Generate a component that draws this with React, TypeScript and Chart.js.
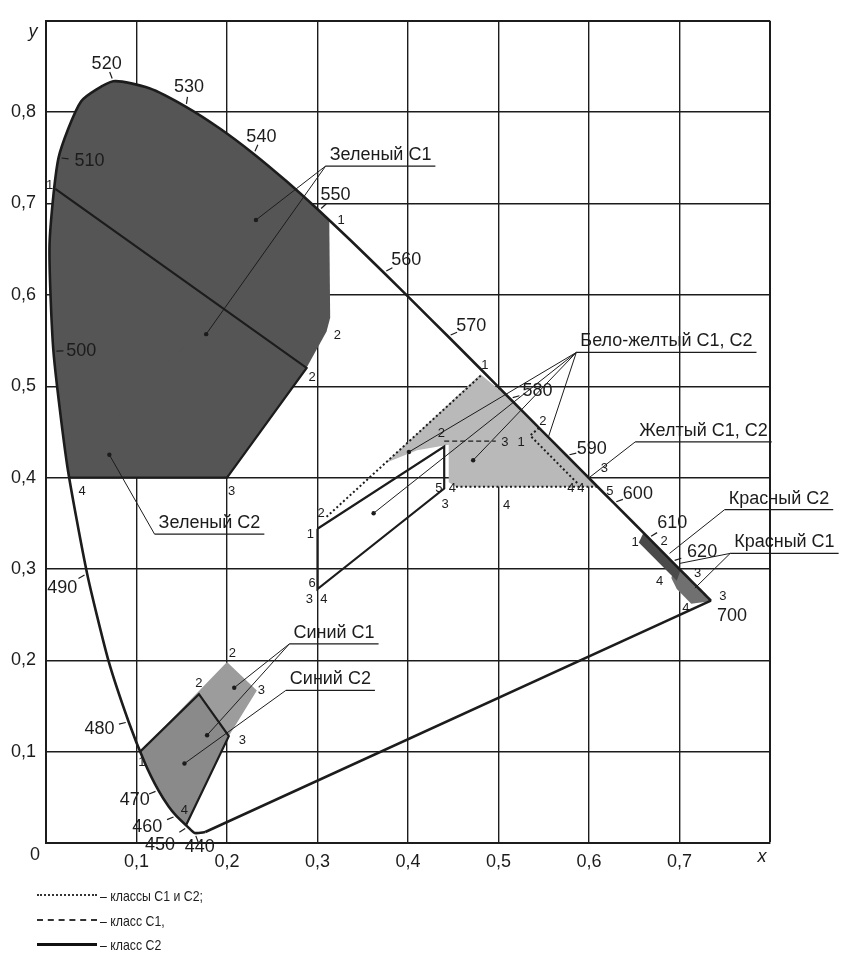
import React, { useEffect, useRef } from 'react';
import { Chart, registerables } from 'chart.js';

Chart.register(...registerables);

const W = 842;
const H = 959;
const FONT = '"Liberation Sans", Arial, Helvetica, sans-serif';
const INK = '#1c1c1c';

// ---- axis tick labels ----
const X_TICK_LABELS = ['', '0,1', '0,2', '0,3', '0,4', '0,5', '0,6', '0,7', ''];
const Y_TICK_LABELS = ['', '0,1', '0,2', '0,3', '0,4', '0,5', '0,6', '0,7', '0,8', ''];

// ---- spectral locus (wavelength, x, y) ----
const LOCUS_NM = [410, 440, 450, 460, 465, 470, 475, 480, 485, 490, 495, 500, 505, 510, 515, 520, 525, 530, 535, 540, 545, 550, 555, 560, 565, 570, 575, 580, 585, 590, 595, 600, 610, 620, 630, 640, 650, 660, 680, 700];
const LOCUS_X = [0.176, 0.1644, 0.1566, 0.144, 0.1355, 0.1241, 0.1096, 0.0913, 0.0687, 0.0454, 0.0235, 0.0082, 0.0039, 0.0139, 0.0389, 0.0743, 0.1142, 0.1547, 0.1929, 0.2296, 0.2658, 0.3016, 0.3373, 0.3731, 0.4087, 0.4441, 0.4788, 0.5125, 0.5448, 0.5752, 0.6029, 0.627, 0.6658, 0.6915, 0.7079, 0.719, 0.726, 0.73, 0.7334, 0.7347];
const LOCUS_Y = [0.012, 0.0109, 0.0177, 0.0297, 0.0399, 0.0578, 0.0868, 0.1327, 0.2007, 0.295, 0.4127, 0.5384, 0.6548, 0.7502, 0.812, 0.8338, 0.8262, 0.8059, 0.7816, 0.7543, 0.7243, 0.6923, 0.6589, 0.6245, 0.5896, 0.5547, 0.5202, 0.4866, 0.4544, 0.4242, 0.3965, 0.3725, 0.334, 0.3083, 0.292, 0.2809, 0.274, 0.27, 0.2666, 0.2653];

// ---- region vertices (outside the locus part) ----
const GREEN_C1_START_X = [0.0259];
const GREEN_C1_START_Y = [0.4];
const GREEN_C1_END_X = [0.313, 0.314, 0.31, 0.289, 0.2];
const GREEN_C1_END_Y = [0.681, 0.575, 0.56, 0.522, 0.4];
const GREEN_C2_X = [0.0103, 0.288, 0.2, 0.0259];
const GREEN_C2_Y = [0.716, 0.52, 0.4, 0.4];

const BLUE_C1_X = [0.104, 0.2, 0.233, 0.202, 0.155];
const BLUE_C1_Y = [0.1, 0.198, 0.167, 0.117, 0.02];
const BLUE_C2_X = [0.104, 0.169, 0.202, 0.155];
const BLUE_C2_Y = [0.1, 0.163, 0.117, 0.02];

const YW_FILL_START_X = [0.375, 0.48];
const YW_FILL_START_Y = [0.416, 0.513];
const YW_FILL_END_X = [0.6094, 0.453, 0.445, 0.445, 0.41];
const YW_FILL_END_Y = [0.39, 0.39, 0.395, 0.436, 0.43];
const YW_DOT_A_X = [0.31, 0.482];
const YW_DOT_A_Y = [0.357, 0.513];
const YW_DOT_B_X = [0.453, 0.6094];
const YW_DOT_B_Y = [0.39, 0.39];
const YELLOW_DOT_X = [0.5448, 0.535, 0.588];
const YELLOW_DOT_Y = [0.4544, 0.446, 0.393];
const C1_DASH_X = [0.44, 0.497];
const C1_DASH_Y = [0.44, 0.44];
const WHITE_C2_X = [0.3, 0.44, 0.44, 0.3, 0.3];
const WHITE_C2_Y = [0.344, 0.434, 0.388, 0.278, 0.344];

const RED_C2_X = [0.66, 0.701, 0.697, 0.655];
const RED_C2_Y = [0.339, 0.298, 0.287, 0.329];
const RED_C1_X = [0.695, 0.736, 0.713, 0.697, 0.691];
const RED_C1_Y = [0.305, 0.265, 0.262, 0.278, 0.29];

// ---- region names with leader lines ----
const REGION_NAMES = ['Зеленый С1', 'Зеленый С2', 'Бело-желтый С1, С2', 'Желтый С1, С2', 'Красный С2', 'Красный С1', 'Синий С1', 'Синий С2'];
const REGION_APEX_X = [0.309, 0.12, 0.586, 0.651, 0.75, 0.756, 0.269, 0.265];
const REGION_APEX_Y = [0.741, 0.338, 0.537, 0.439, 0.365, 0.317, 0.218, 0.167];
const REGION_TARGETS: number[][][] = [
  [[0.232, 0.682, 1], [0.177, 0.557, 1]],
  [[0.07, 0.425, 1]],
  [[0.362, 0.361, 1], [0.401, 0.428, 1], [0.472, 0.419, 1], [0.555, 0.444, 0]],
  [[0.599, 0.399, 0]],
  [[0.689, 0.317, 0]],
  [[0.7, 0.306, 0], [0.717, 0.279, 0]],
  [[0.208, 0.17, 1], [0.178, 0.118, 1]],
  [[0.153, 0.087, 1]],
];

// ---- wavelength labels ----
const WL_NM = [520, 530, 540, 510, 550, 560, 570, 580, 590, 600, 610, 620, 700, 500, 490, 480, 470, 460, 450, 440];
const WL_LX = [0.067, 0.158, 0.238, 0.048, 0.32, 0.398, 0.47, 0.543, 0.603, 0.654, 0.692, 0.725, 0.758, 0.039, 0.018, 0.059, 0.098, 0.112, 0.126, 0.17];
const WL_LY = [0.853, 0.828, 0.773, 0.746, 0.709, 0.638, 0.566, 0.495, 0.431, 0.382, 0.35, 0.319, 0.248, 0.539, 0.279, 0.125, 0.047, 0.017, -0.002, -0.004];

// ---- vertex numbers ----
const PT_TEXT = ['1', '1', '2', '2', '3', '4', '2', '2', '3', '3', '1', '4', '1', '2', '3', '1', '3', '4', '4', '5', '4', '2', '5', '4', '3', '2', '1', '6', '3', '4', '1', '2', '4', '3', '4', '3'];
const PT_X = [0.004, 0.326, 0.322, 0.294, 0.205, 0.04, 0.206, 0.169, 0.238, 0.217, 0.106, 0.153, 0.485, 0.549, 0.507, 0.525, 0.617, 0.58, 0.591, 0.623, 0.509, 0.437, 0.434, 0.449, 0.441, 0.304, 0.292, 0.294, 0.291, 0.307, 0.651, 0.683, 0.678, 0.72, 0.707, 0.748];
const PT_Y = [0.72, 0.682, 0.556, 0.51, 0.385, 0.385, 0.208, 0.175, 0.167, 0.112, 0.088, 0.036, 0.523, 0.461, 0.439, 0.439, 0.41, 0.388, 0.388, 0.385, 0.37, 0.448, 0.388, 0.388, 0.371, 0.361, 0.338, 0.284, 0.267, 0.267, 0.329, 0.33, 0.286, 0.295, 0.257, 0.27];

// ---- legend ----
const LEGEND_TEXT = ['– классы С1 и С2;', '– класс С1,', '– класс С2'];
const LEGEND_LINE = ['2px dotted #333', '2px dashed #333', '3px solid #111'];

const pts = (xs: number[], ys: number[]) => xs.map((x, i) => ({ x, y: ys[i] }));
const locusRange = (a: number, b: number) => {
  const out: { x: number; y: number }[] = [];
  LOCUS_NM.forEach((nm, i) => {
    if (nm >= a && nm <= b) out.push({ x: LOCUS_X[i], y: LOCUS_Y[i] });
  });
  return out;
};

const LOCUS_TENSION = 0.2;

export default function App() {
  const ref = useRef<HTMLCanvasElement>(null);

  useEffect(() => {
    const canvas = ref.current;
    if (!canvas) return;

    const fillDs = (data: any[], color: string, order: number, tension = 0) => ({
      data, showLine: true, fill: 'shape', backgroundColor: color, borderColor: color,
      borderWidth: 0, pointRadius: 0, order, tension,
    });
    const lineDs = (data: any[], width: number, dash: number[], order: number, tension = 0) => ({
      data, showLine: true, fill: false, borderColor: INK, borderWidth: width, borderDash: dash,
      pointRadius: 0, order, tension, borderCapStyle: 'butt',
    });

    const greenC1 = [...pts(GREEN_C1_START_X, GREEN_C1_START_Y), ...locusRange(495, 550), ...pts(GREEN_C1_END_X, GREEN_C1_END_Y)];
    const blueC1 = [...pts(BLUE_C1_X, BLUE_C1_Y), ...locusRange(460, 475)];
    const blueC2 = [...pts(BLUE_C2_X, BLUE_C2_Y), ...locusRange(460, 475)];
    const ywFill = [...pts(YW_FILL_START_X, YW_FILL_START_Y), ...locusRange(580, 595), ...pts(YW_FILL_END_X, YW_FILL_END_Y)];
    const locus = pts(LOCUS_X, LOCUS_Y);
    const purple = [locus[0], locus[locus.length - 1]];

    const annotate = {
      id: 'annotate',
      afterDatasetsDraw(chart: any) {
        const { ctx, scales } = chart;
        const sx = (v: number) => scales.x.getPixelForValue(v);
        const sy = (v: number) => scales.y.getPixelForValue(v);
        ctx.save();
        ctx.fillStyle = INK;
        ctx.strokeStyle = INK;

        // region names, underlines, leaders
        ctx.font = `18px ${FONT}`;
        ctx.textAlign = 'left';
        ctx.textBaseline = 'alphabetic';
        REGION_NAMES.forEach((name, i) => {
          const ax = sx(REGION_APEX_X[i]);
          const ay = sy(REGION_APEX_Y[i]);
          const tw = ctx.measureText(name).width;
          ctx.fillText(name, ax + 4, ay - 6);
          ctx.lineWidth = 1.3;
          ctx.beginPath();
          ctx.moveTo(ax, ay);
          ctx.lineTo(Math.min(ax + tw + 8, W), ay);
          ctx.stroke();
          ctx.lineWidth = 1;
          REGION_TARGETS[i].forEach(([tx, ty, dot]) => {
            const px = sx(tx), py = sy(ty);
            ctx.beginPath();
            ctx.moveTo(ax, ay);
            ctx.lineTo(px, py);
            ctx.stroke();
            if (dot) {
              ctx.beginPath();
              ctx.arc(px, py, 2.2, 0, Math.PI * 2);
              ctx.fill();
            }
          });
        });

        // wavelength labels and ticks
        ctx.textAlign = 'center';
        ctx.textBaseline = 'middle';
        ctx.font = `18px ${FONT}`;
        WL_NM.forEach((nm, i) => {
          const li = LOCUS_NM.indexOf(nm);
          const lx = sx(WL_LX[i]), ly = sy(WL_LY[i]);
          ctx.fillText(String(nm), lx, ly);
          if (nm !== 700 && li >= 0) {
            const px = sx(LOCUS_X[li]), py = sy(LOCUS_Y[li]);
            const dx = lx - px, dy = ly - py;
            const d = Math.hypot(dx, dy) || 1;
            ctx.lineWidth = 1.2;
            ctx.beginPath();
            ctx.moveTo(px + (dx / d) * 3, py + (dy / d) * 3);
            ctx.lineTo(px + (dx / d) * 10, py + (dy / d) * 10);
            ctx.stroke();
          }
        });

        // vertex numbers
        ctx.font = `13px ${FONT}`;
        PT_TEXT.forEach((t, i) => ctx.fillText(t, sx(PT_X[i]), sy(PT_Y[i])));

        // axis letters
        const ca = chart.chartArea;
        ctx.font = `italic 18px ${FONT}`;
        ctx.fillText('y', ca.left - 13, ca.top + 11);
        ctx.fillText('x', ca.right - 8, ca.bottom + 14);
        ctx.font = `18px ${FONT}`;
        ctx.fillText('0', ca.left - 11, ca.bottom + 12);
        ctx.restore();
      },
    };

    const gridWidth = (edge: number) => (c: any) =>
      c.tick && Math.abs(c.tick.value - edge) < 1e-6 ? 2 : 1.4;

    const chart = new Chart(canvas, {
      type: 'scatter',
      data: {
        datasets: [
          lineDs(locus, 2.6, [], 1, LOCUS_TENSION),
          lineDs(purple, 2.6, [], 1),
          lineDs(pts(GREEN_C2_X, GREEN_C2_Y), 2.2, [], 2),
          lineDs(pts(BLUE_C2_X, BLUE_C2_Y), 2.2, [], 2),
          lineDs(pts(WHITE_C2_X, WHITE_C2_Y), 2.2, [], 2),
          lineDs(pts(YW_DOT_A_X, YW_DOT_A_Y), 2, [2, 2.5], 2),
          lineDs(pts(YW_DOT_B_X, YW_DOT_B_Y), 2, [2, 2.5], 2),
          lineDs(pts(YELLOW_DOT_X, YELLOW_DOT_Y), 2, [2, 2.5], 2),
          lineDs(pts(C1_DASH_X, C1_DASH_Y), 1.2, [5, 3], 2),
          fillDs(pts(RED_C2_X, RED_C2_Y), '#4a4a4a', 20),
          fillDs(pts(RED_C1_X, RED_C1_Y), '#707070', 21),
          fillDs(blueC2, '#8a8a8a', 20),
          fillDs(blueC1, '#9c9c9c', 21),
          fillDs(ywFill, '#b9b9b9', 21),
          fillDs(locusRange(495, 550), '#555555', 21, LOCUS_TENSION),
          fillDs(greenC1, '#555555', 21),
        ] as any,
      },
      options: {
        responsive: false,
        maintainAspectRatio: false,
        animation: false,
        events: [],
        layout: { padding: { left: 0, top: 17, right: W - 770, bottom: 0 } },
        plugins: { legend: { display: false }, tooltip: { enabled: false } },
        scales: {
          x: {
            type: 'linear', min: 0, max: 0.8,
            afterFit: (s: any) => { s.height = H - 843; },
            border: { display: true, color: INK, width: 2 },
            grid: { color: INK, lineWidth: gridWidth(0.8), drawTicks: false },
            ticks: {
              stepSize: 0.1, autoSkip: false, maxRotation: 0, padding: 8, color: INK,
              font: { family: FONT, size: 18 },
              callback: (_v: any, i: number) => X_TICK_LABELS[i] ?? '',
            },
          },
          y: {
            type: 'linear', min: 0, max: 0.9,
            afterFit: (s: any) => { s.width = 46; },
            border: { display: true, color: INK, width: 2 },
            grid: { color: INK, lineWidth: gridWidth(0.9), drawTicks: false },
            ticks: {
              stepSize: 0.1, autoSkip: false, padding: 10, color: INK,
              font: { family: FONT, size: 18 },
              callback: (_v: any, i: number) => Y_TICK_LABELS[i] ?? '',
            },
          },
        },
      } as any,
      plugins: [annotate],
    });
    return () => chart.destroy();
  }, []);

  const legendCenters = [895, 920, 944];
  return (
    <div style={{ position: 'absolute', left: 0, top: 0, width: W, height: H, background: '#fff', overflow: 'hidden' }}>
      <canvas ref={ref} width={W} height={H} style={{ position: 'absolute', left: 0, top: 0, width: W, height: H }} />
      {LEGEND_TEXT.map((t, i) => (
        <div key={i} style={{ position: 'absolute', left: 37, top: legendCenters[i] - 10, height: 20, display: 'flex', alignItems: 'center' }}>
          <div style={{ width: 60, height: 0, borderTop: LEGEND_LINE[i] }} />
          <span style={{ marginLeft: 3, fontFamily: FONT, fontSize: 15, color: INK, whiteSpace: 'nowrap', display: 'inline-block', transform: 'scaleX(0.82)', transformOrigin: 'left center' }}>{t}</span>
        </div>
      ))}
    </div>
  );
}
